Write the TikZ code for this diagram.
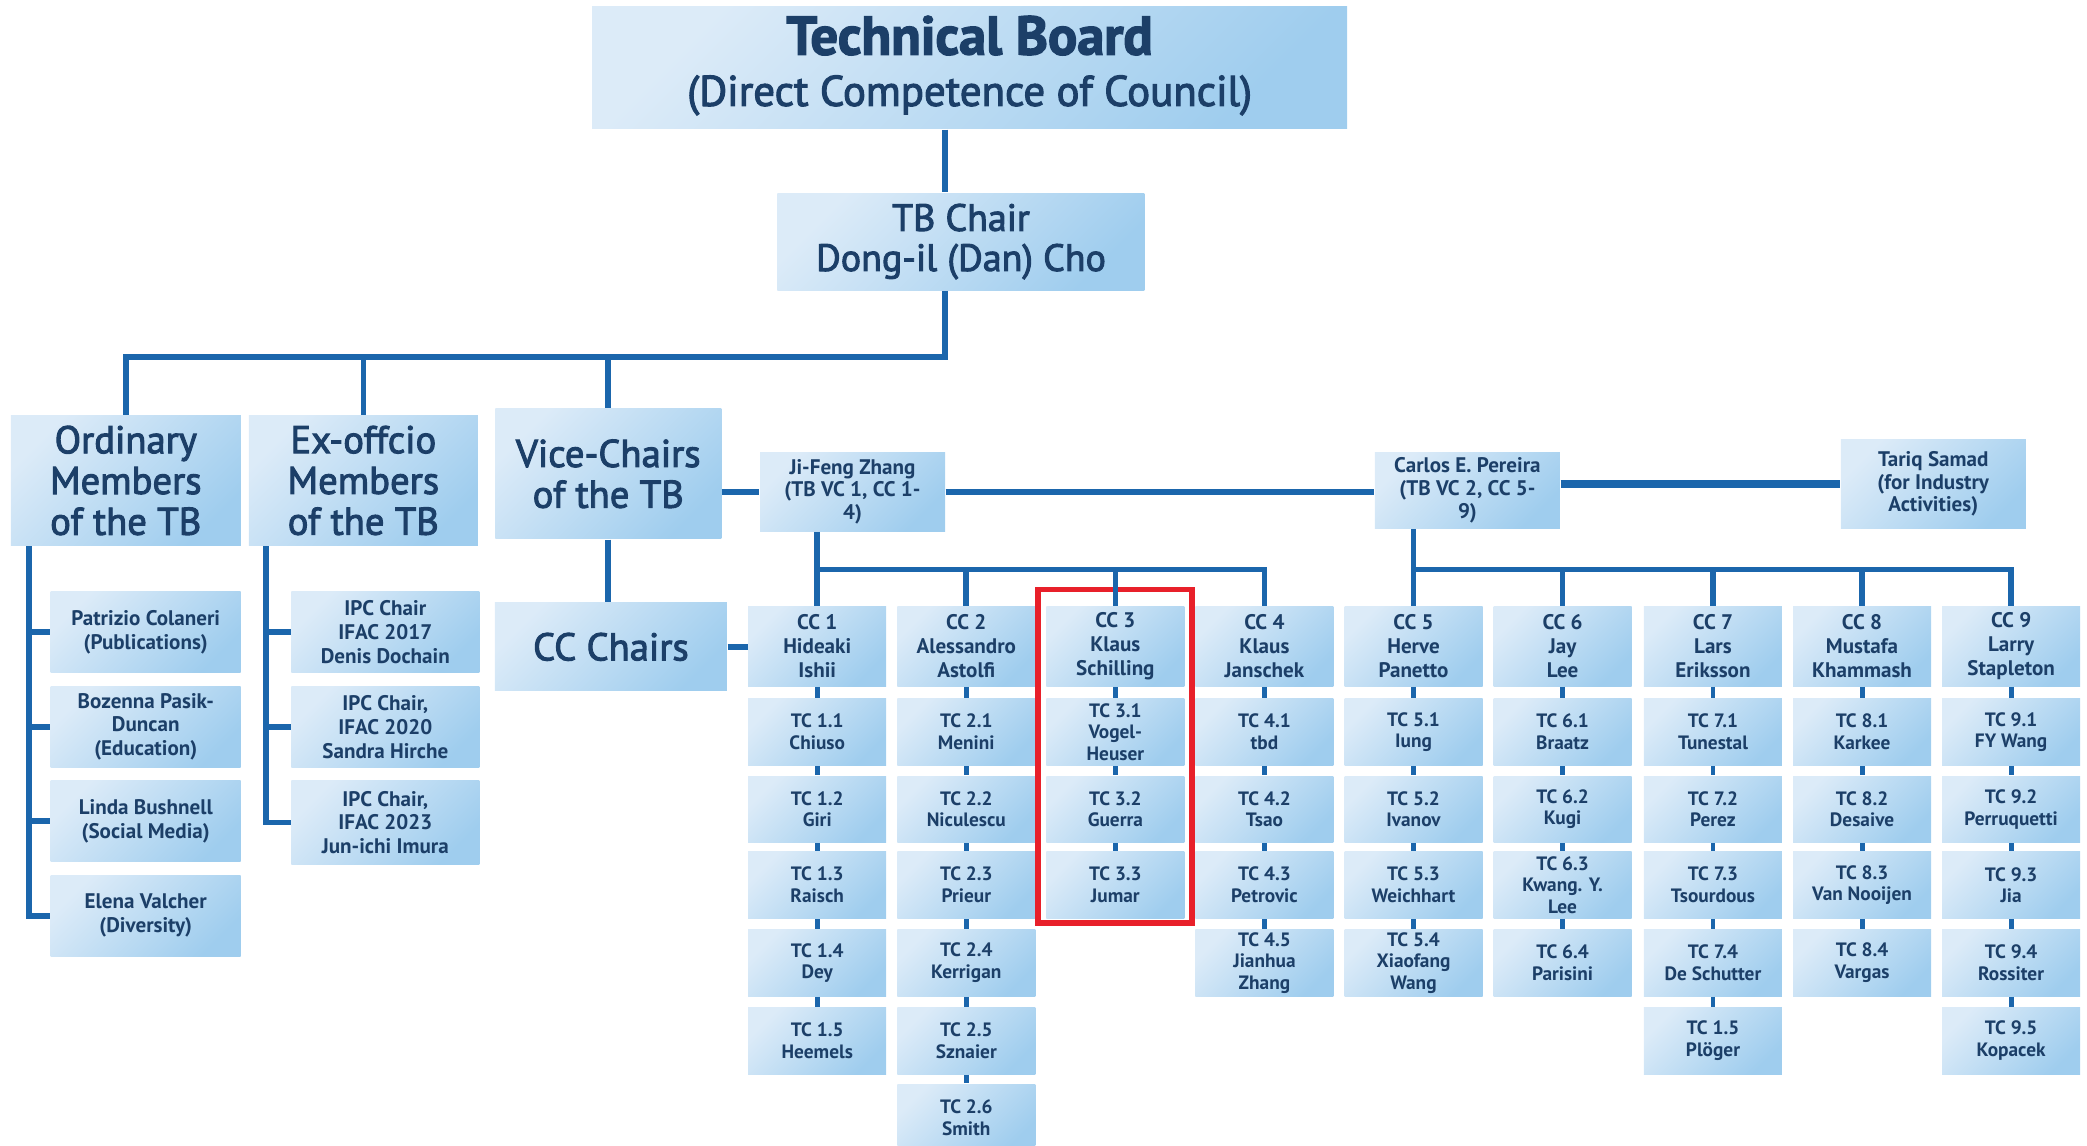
\documentclass[tikz,border=0pt]{standalone}
\usepackage{fontspec}
\setmainfont{PT Sans}
\newfontfamily\headfont[FakeBold=2.5]{PT Sans}
\usepackage{xcolor}
\usepackage{tikz}
\usetikzlibrary{positioning, calc}
\definecolor{boxlight}{HTML}{DCEBF8}
\definecolor{boxdark}{HTML}{9FCDEE}
\definecolor{boxtext}{HTML}{1C3F68}
\definecolor{linkblue}{HTML}{1B66AC}
\definecolor{hired}{HTML}{E8202A}

\begin{document}
\begin{tikzpicture}[
    x=0.1331mm, y=-0.1331mm,
    box/.style={top color=boxlight, bottom color=boxdark, shading angle=45,
                align=center, text=boxtext, inner sep=1pt},
    head/.style={box, font=\headfont\fontsize{11}{11.6}\selectfont},
    member/.style={box, minimum height=8.1mm, font=\bfseries\fontsize{6}{6.8}\selectfont},
    vc/.style={box, minimum width=18.5mm, font=\bfseries\fontsize{6}{6.5}\selectfont},
    cc/.style={box, minimum width=13.8mm, minimum height=8mm,
               font=\bfseries\fontsize{6}{6.8}\selectfont},
    tc/.style={box, minimum width=13.8mm, minimum height=6.65mm, inner ysep=0pt,
               font=\bfseries\fontsize{5.5}{6.2}\selectfont},
    link/.style={draw=linkblue, line width=1.6pt},
    tick/.style={draw=linkblue, line width=1.4pt},
    hilite/.style={draw=hired, line width=1.6pt},
]
\useasboundingbox (0,0) rectangle (1568,861);

% Board and chair
\node[box, minimum width=75.5mm, minimum height=12.2mm, text depth=4pt, font=\headfont\fontsize{12.2}{14.6}\selectfont] (tb) at (728.5,51)
  {{\bfseries\fontsize{15.5}{14.6}\selectfont Technical Board}\\(Direct Competence of Council)};
\node[head, minimum width=36.7mm, minimum height=9.7mm, font=\headfont\fontsize{10.8}{11.4}\selectfont] (chair) at (722,181.5)
  {TB Chair\\Dong-il (Dan) Cho};
\coordinate (trunk) at (710,268);

% Groups of the TB
\node[head, minimum width=23mm, minimum height=13mm] (ordm) at (94.5,361) {Ordinary\\Members\\of the TB};
\node[head, minimum width=22.9mm, minimum height=13mm] (exom) at (273,361) {Ex-offcio\\Members\\of the TB};
\node[head, minimum width=22.6mm, minimum height=13mm] (vice) at (457,356) {Vice-Chairs\\of the TB};
\node[head, minimum width=23.2mm, minimum height=8.8mm] (ccch) at (459,486) {CC Chairs};

% Ordinary members
\node[member, minimum width=19mm] (om1) at (109.5,475) {Patrizio Colaneri\\(Publications)};
\node[member, minimum width=19mm] (om2) at (109.5,546) {Bozenna Pasik-\\Duncan\\(Education)};
\node[member, minimum width=19mm] (om3) at (109.5,617) {Linda Bushnell\\(Social Media)};
\node[member, minimum width=19mm] (om4) at (109.5,688) {Elena Valcher\\(Diversity)};
\coordinate (obar) at (22,0);

% Ex-officio members
\node[member, minimum width=18.8mm] (xm1) at (289.5,475) {IPC Chair\\IFAC 2017\\Denis Dochain};
\node[member, minimum width=18.8mm] (xm2) at (289.5,546) {IPC Chair,\\IFAC 2020\\Sandra Hirche};
\node[member, minimum width=18.8mm, minimum height=8.4mm] (xm3) at (289.5,618) {IPC Chair,\\IFAC 2023\\Jun-ichi Imura};
\coordinate (xbar) at (200,0);

% Vice-chairs
\node[vc, minimum height=7.85mm] (jfz) at (640.5,369.5) {Ji-Feng Zhang\\(TB VC 1, CC 1-\\4)};
\node[vc, minimum height=7.6mm] (cep) at (1102.5,368.5) {Carlos E. Pereira\\(TB VC 2, CC 5-\\9)};
\node[vc, minimum height=8.9mm] (tsm) at (1452.5,363.5) {Tariq Samad\\(for Industry\\Activities)};
\coordinate (ccbar) at (0,428);

% Coordinating committees
\node[cc] (cc1) at (614,485.5) {CC 1\\Hideaki\\Ishii};
\node[cc] (cc2) at (726,485.5) {CC 2\\Alessandro\\Astolfi};
\node[cc] (cc3) at (838,485.5) {CC 3\\Klaus\\Schilling};
\node[cc] (cc4) at (950,485.5) {CC 4\\Klaus\\Janschek};
\node[cc] (cc5) at (1062,485.5) {CC 5\\Herve\\Panetto};
\node[cc] (cc6) at (1174,485.5) {CC 6\\Jay\\Lee};
\node[cc] (cc7) at (1287,485.5) {CC 7\\Lars\\Eriksson};
\node[cc] (cc8) at (1399,485.5) {CC 8\\Mustafa\\Khammash};
\node[cc] (cc9) at (1511,485.5) {CC 9\\Larry\\Stapleton};

% Technical committees
\node[tc] (tc11) at (614,550) {TC 1.1\\Chiuso};
\node[tc] (tc12) at (614,608) {TC 1.2\\Giri};
\node[tc] (tc13) at (614,665) {TC 1.3\\Raisch};
\node[tc] (tc14) at (614,723.5) {TC 1.4\\Dey};
\node[tc] (tc15) at (614,782) {TC 1.5\\Heemels};

\node[tc] (tc21) at (726,550) {TC 2.1\\Menini};
\node[tc] (tc22) at (726,608) {TC 2.2\\Niculescu};
\node[tc] (tc23) at (726,665) {TC 2.3\\Prieur};
\node[tc] (tc24) at (726,723.5) {TC 2.4\\Kerrigan};
\node[tc] (tc25) at (726,782) {TC 2.5\\Sznaier};
\node[tc] (tc26) at (726,839.5) {TC 2.6\\Smith};

\node[tc] (tc31) at (838,550) {TC 3.1\\Vogel-\\Heuser};
\node[tc] (tc32) at (838,608) {TC 3.2\\Guerra};
\node[tc] (tc33) at (838,665) {TC 3.3\\Jumar};

\node[tc] (tc41) at (950,550) {TC 4.1\\tbd};
\node[tc] (tc42) at (950,608) {TC 4.2\\Tsao};
\node[tc] (tc43) at (950,665) {TC 4.3\\Petrovic};
\node[tc] (tc45) at (950,723.5) {TC 4.5\\Jianhua\\Zhang};

\node[tc] (tc51) at (1062,550) {TC 5.1\\Iung};
\node[tc] (tc52) at (1062,608) {TC 5.2\\Ivanov};
\node[tc] (tc53) at (1062,665) {TC 5.3\\Weichhart};
\node[tc] (tc54) at (1062,723.5) {TC 5.4\\Xiaofang\\Wang};

\node[tc] (tc61) at (1174,550) {TC 6.1\\Braatz};
\node[tc] (tc62) at (1174,608) {TC 6.2\\Kugi};
\node[tc] (tc63) at (1174,665) {TC 6.3\\Kwang. Y.\\Lee};
\node[tc] (tc64) at (1174,723.5) {TC 6.4\\Parisini};

\node[tc] (tc71) at (1287,550) {TC 7.1\\Tunestal};
\node[tc] (tc72) at (1287,608) {TC 7.2\\Perez};
\node[tc] (tc73) at (1287,665) {TC 7.3\\Tsourdous};
\node[tc] (tc74) at (1287,723.5) {TC 7.4\\De Schutter};
\node[tc] (tc75) at (1287,782) {TC 1.5\\Plöger};

\node[tc] (tc81) at (1399,550) {TC 8.1\\Karkee};
\node[tc] (tc82) at (1399,608) {TC 8.2\\Desaive};
\node[tc] (tc83) at (1399,665) {TC 8.3\\Van Nooijen};
\node[tc] (tc84) at (1399,723.5) {TC 8.4\\Vargas};

\node[tc] (tc91) at (1511,550) {TC 9.1\\FY Wang};
\node[tc] (tc92) at (1511,608) {TC 9.2\\Perruquetti};
\node[tc] (tc93) at (1511,665) {TC 9.3\\Jia};
\node[tc] (tc94) at (1511,723.5) {TC 9.4\\Rossiter};
\node[tc] (tc95) at (1511,782) {TC 9.5\\Kopacek};

% Highlight round CC 3
\draw[hilite] ($(cc3.north west)+(-6,-12)$) rectangle ($(tc33.south east)+(5,3)$);

% Spine
\draw[link] (tb.south -| trunk) -- (chair.north -| trunk);
\draw[link] (chair.south -| trunk) -- (trunk) -| (ordm.north);
\draw[link] (trunk -| exom.north) -- (exom.north);
\draw[link] (trunk -| vice.north) -- (vice.north);

% Member bars
\draw[link] (ordm.south -| obar) -- (om4.west -| obar) -- (om4.west);
\draw[link] (om1.west -| obar) -- (om1.west);
\draw[link] (om2.west -| obar) -- (om2.west);
\draw[link] (om3.west -| obar) -- (om3.west);
\draw[link] (exom.south -| xbar) -- (xm3.west -| xbar) -- (xm3.west);
\draw[link] (xm1.west -| xbar) -- (xm1.west);
\draw[link] (xm2.west -| xbar) -- (xm2.west);

% Vice-chairs and CC chairs
\draw[link] (vice.east |- jfz.west) -- (jfz.west);
\draw[link] (jfz.east) -- (jfz.east -| cep.west);
\draw[link, line width=2.2pt] (cep.east |- tsm.west) -- (tsm.west);
\draw[link] (vice.south) -- (vice.south |- ccch.north);
\draw[link] (ccch.east) -- (ccch.east -| cc1.west);

% CC bars
\draw[link] (jfz.south -| cc1.north) -- (cc1.north);
\draw[link] (ccbar -| cc1.north) -- (ccbar -| cc4.north) -- (cc4.north);
\draw[link] (ccbar -| cc2.north) -- (cc2.north);
\draw[link] (ccbar -| cc3.north) -- (cc3.north);
\draw[link] (cep.south -| cc5.north) -- (cc5.north);
\draw[link] (ccbar -| cc5.north) -- (ccbar -| cc9.north) -- (cc9.north);
\draw[link] (ccbar -| cc6.north) -- (cc6.north);
\draw[link] (ccbar -| cc7.north) -- (cc7.north);
\draw[link] (ccbar -| cc8.north) -- (cc8.north);

% TC ticks
\draw[tick] (cc1.south) -- (tc11.north) (tc11.south) -- (tc12.north) (tc12.south) -- (tc13.north)
  (tc13.south) -- (tc14.north) (tc14.south) -- (tc15.north);
\draw[tick] (cc2.south) -- (tc21.north) (tc21.south) -- (tc22.north) (tc22.south) -- (tc23.north)
  (tc23.south) -- (tc24.north) (tc24.south) -- (tc25.north) (tc25.south) -- (tc26.north);
\draw[tick] (cc3.south) -- (tc31.north) (tc31.south) -- (tc32.north) (tc32.south) -- (tc33.north);
\draw[tick] (cc4.south) -- (tc41.north) (tc41.south) -- (tc42.north) (tc42.south) -- (tc43.north)
  (tc43.south) -- (tc45.north);
\draw[tick] (cc5.south) -- (tc51.north) (tc51.south) -- (tc52.north) (tc52.south) -- (tc53.north)
  (tc53.south) -- (tc54.north);
\draw[tick] (cc6.south) -- (tc61.north) (tc61.south) -- (tc62.north) (tc62.south) -- (tc63.north)
  (tc63.south) -- (tc64.north);
\draw[tick] (cc7.south) -- (tc71.north) (tc71.south) -- (tc72.north) (tc72.south) -- (tc73.north)
  (tc73.south) -- (tc74.north) (tc74.south) -- (tc75.north);
\draw[tick] (cc8.south) -- (tc81.north) (tc81.south) -- (tc82.north) (tc82.south) -- (tc83.north)
  (tc83.south) -- (tc84.north);
\draw[tick] (cc9.south) -- (tc91.north) (tc91.south) -- (tc92.north) (tc92.south) -- (tc93.north)
  (tc93.south) -- (tc94.north) (tc94.south) -- (tc95.north);
\end{tikzpicture}
\end{document}
